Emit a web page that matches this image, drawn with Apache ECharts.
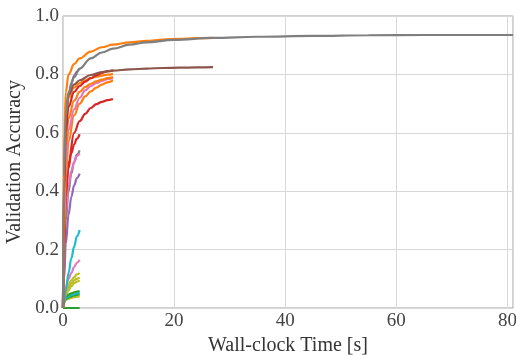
<!DOCTYPE html>
<html>
<head>
<meta charset="utf-8">
<script src="https://cdn.jsdelivr.net/npm/echarts@6/dist/echarts.min.js"></script>
<style>
  html, body { margin: 0; padding: 0; background: #fff; }
  #chart { width: 516px; height: 355px; }
</style>
</head>
<body>
<div id="chart"></div>
<script>
// time stamps (s) for each bracket
const t3 = [0, 0.2, 0.5, 1, 1.5, 2, 2.5, 3];
const t9 = [0, 0.2, 0.5, 1, 2, 3, 4, 5, 6, 7, 8, 9];
const t27 = [0, 0.2, 0.5, 1, 2, 3, 5, 7, 9, 12, 15, 18, 21, 24, 27];
const t81 = [0, 0.2, 0.5, 1, 2, 3, 5, 7, 9, 12, 15, 20, 27, 35, 45, 55, 65, 75, 81];

// validation accuracy of each run
const gray81 = [0, 0.45, 0.66, 0.74, 0.79, 0.82, 0.855, 0.875, 0.888, 0.902, 0.91, 0.918, 0.925, 0.929, 0.932, 0.934, 0.935, 0.935, 0.935];
const orange27 = [0, 0.55, 0.74, 0.8, 0.835, 0.855, 0.878, 0.893, 0.902, 0.91, 0.915, 0.919, 0.922, 0.924, 0.925];
const brown27 = [0, 0.5, 0.66, 0.73, 0.765, 0.78, 0.798, 0.808, 0.813, 0.817, 0.82, 0.822, 0.823, 0.824, 0.825];

const red9a = [0, 0.4, 0.6, 0.69, 0.74, 0.76, 0.775, 0.787, 0.797, 0.805, 0.811, 0.814];
const orange9a = [0, 0.45, 0.64, 0.72, 0.755, 0.77, 0.78, 0.787, 0.792, 0.796, 0.799, 0.802];
const orange9b = [0, 0.35, 0.55, 0.65, 0.71, 0.74, 0.757, 0.768, 0.776, 0.782, 0.787, 0.791];
const orange9c = [0, 0.25, 0.45, 0.57, 0.66, 0.7, 0.725, 0.742, 0.755, 0.765, 0.773, 0.78];
const pink9 = [0, 0.3, 0.5, 0.61, 0.68, 0.72, 0.745, 0.76, 0.77, 0.778, 0.784, 0.788];
const red9b = [0, 0.2, 0.38, 0.5, 0.6, 0.64, 0.665, 0.685, 0.698, 0.706, 0.712, 0.716];

const purple3a = [0, 0.45, 0.64, 0.73, 0.77, 0.795, 0.81, 0.82];
const red3 = [0, 0.25, 0.4, 0.48, 0.53, 0.56, 0.58, 0.595];
const pink3a = [0, 0.2, 0.33, 0.42, 0.47, 0.5, 0.52, 0.53];
const gray3 = [0, 0.15, 0.3, 0.4, 0.46, 0.5, 0.525, 0.54];
const purple3b = [0, 0.1, 0.22, 0.32, 0.38, 0.42, 0.445, 0.46];
const cyan3 = [0, 0.02, 0.06, 0.12, 0.17, 0.21, 0.245, 0.267];
const pink3b = [0, 0.04, 0.07, 0.1, 0.12, 0.14, 0.155, 0.165];
const olive3a = [0, 0.04, 0.06, 0.08, 0.095, 0.105, 0.115, 0.12];
const olive3b = [0, 0.03, 0.05, 0.07, 0.085, 0.095, 0.1, 0.105];
const olive3c = [0, 0.03, 0.045, 0.06, 0.075, 0.085, 0.09, 0.095];
const green3a = [0, 0.03, 0.04, 0.046, 0.05, 0.054, 0.056, 0.058];
const cyan3b = [0, 0.02, 0.035, 0.04, 0.045, 0.048, 0.05, 0.052];
const green3b = [0, 0.02, 0.03, 0.036, 0.04, 0.043, 0.045, 0.047];
const olive3d = [0, 0.02, 0.028, 0.032, 0.035, 0.037, 0.039, 0.04];
const green3c = [0, 0, 0, 0, 0, 0, 0, 0];

const xTicks = [0, 20, 40, 60, 80];
const yTicks = [0, 0.2, 0.4, 0.6, 0.8, 1.0];

// tab10
const C = {
  blue: '#1f77b4', orange: '#ff7f0e', green: '#2ca02c', red: '#d62728', purple: '#9467bd',
  brown: '#8c564b', pink: '#e377c2', gray: '#7f7f7f', olive: '#bcbd22', cyan: '#17becf'
};

const runs = [
  [t3, green3c, C.green],
  [t3, olive3d, C.olive],
  [t3, green3b, C.green],
  [t3, cyan3b, C.cyan],
  [t3, green3a, C.green],
  [t3, olive3c, C.olive],
  [t3, olive3b, C.olive],
  [t3, olive3a, C.olive],
  [t3, pink3b, C.pink],
  [t3, cyan3, C.cyan],
  [t3, purple3b, C.purple],
  [t3, gray3, C.gray],
  [t3, pink3a, C.pink],
  [t3, red3, C.red],
  [t3, purple3a, C.purple],
  [t9, red9b, C.red],
  [t9, orange9c, C.orange],
  [t9, pink9, C.pink],
  [t9, orange9b, C.orange],
  [t9, orange9a, C.orange],
  [t9, red9a, C.red],
  [t27, brown27, C.brown],
  [t27, orange27, C.orange],
  [t81, gray81, C.gray]
];

const font = '"Liberation Serif", "DejaVu Serif", serif';

const chart = echarts.init(document.getElementById('chart'));
chart.setOption({
  animation: false,
  grid: {
    left: 63, right: 3, top: 16, bottom: 47,
    outerBoundsMode: 'none', containLabel: false,
    show: true, borderColor: '#a0a0a0', borderWidth: 1
  },
  xAxis: {
    type: 'value', min: 0, max: 81, interval: 20,
    name: 'Wall-clock Time [s]', nameLocation: 'middle', nameGap: 24,
    nameTextStyle: { fontFamily: font, fontSize: 20, color: '#333' },
    axisLine: { show: false },
    axisTick: { show: false },
    axisLabel: {
      fontFamily: font, fontSize: 19, color: '#444', margin: 4,
      formatter: v => xTicks.includes(v) ? String(v) : ''
    },
    splitLine: { lineStyle: { color: '#d8d8d8', width: 1 } }
  },
  yAxis: {
    type: 'value', min: 0, max: 1.0, interval: 0.2,
    name: 'Validation Accuracy', nameLocation: 'middle', nameGap: 33,
    nameTextStyle: { fontFamily: font, fontSize: 20, color: '#333' },
    axisLine: { show: false },
    axisTick: { show: false },
    axisLabel: {
      fontFamily: font, fontSize: 19, color: '#444', margin: 4,
      formatter: v => yTicks.some(t => Math.abs(t - v) < 1e-6) ? v.toFixed(1) : ''
    },
    splitLine: { lineStyle: { color: '#d8d8d8', width: 1 } }
  },
  series: runs.map(([t, acc, color]) => ({
    type: 'line',
    data: t.map((x, i) => [x, acc[i]]),
    showSymbol: false,
    smooth: 0.4,
    smoothMonotone: 'x',
    lineStyle: { color: color, width: 2.2 },
    itemStyle: { color: color }
  }))
});
</script>
</body>
</html>
